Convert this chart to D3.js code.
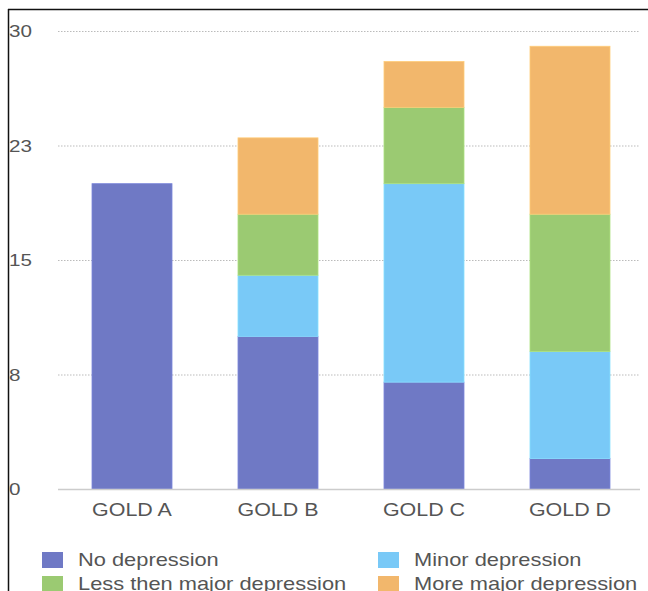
<!DOCTYPE html>
<html>
<head>
<meta charset="utf-8">
<script src="https://cdn.jsdelivr.net/npm/d3@7"></script>
<style>
  body { margin: 0; background: #fff; }
  svg { font-family: "Liberation Sans", Arial, sans-serif; }
</style>
</head>
<body>
<div id="chart"></div>
<script>
var categories = ["GOLD A", "GOLD B", "GOLD C", "GOLD D"];
var seriesNames = ["No depression", "Minor depression", "Less then major depression", "More major depression"];
var noDepression = [20, 10, 7, 2];
var minorDepression = [0, 4, 13, 7];
var lessMajor = [0, 4, 5, 9];
var moreMajor = [0, 5, 3, 11];
var tickValues = [0, 7.5, 15, 22.5, 30];
var colors = ["#6f79c5", "#79c9f7", "#9bca72", "#f2b76c"];

var svg = d3.select("#chart").append("svg")
    .attr("width", 648)
    .attr("height", 591);

// the text in the picture is a bit wide, stretch it
function stretch(sel, k) {
    sel.each(function () {
        var len = this.getComputedTextLength();
        d3.select(this).attr("textLength", len * k).attr("lengthAdjust", "spacingAndGlyphs");
    });
}

// frame lines of the original screenshot
svg.append("line").attr("x1", 8).attr("x2", 648).attr("y1", 9.5).attr("y2", 9.5)
    .attr("stroke", "#111").attr("stroke-width", 1.5);
svg.append("line").attr("x1", 8.5).attr("x2", 8.5).attr("y1", 9).attr("y2", 591)
    .attr("stroke", "#111").attr("stroke-width", 1.5);

var margin = { top: 31, left: 58, right: 8 };
var width = 648 - margin.left - margin.right;
var height = 489 - margin.top;
var g = svg.append("g").attr("transform", "translate(" + margin.left + "," + margin.top + ")");

var x = d3.scaleBand().domain(categories).range([34, 552]).paddingInner(0.452).paddingOuter(0);
var y = d3.scaleLinear().domain([0, 30]).range([height, 0]);

// grid
g.selectAll(".grid").data(tickValues.slice(1)).enter().append("line")
    .attr("x1", 0).attr("x2", width)
    .attr("y1", function (d) { return y(d) + 0.5; })
    .attr("y2", function (d) { return y(d) + 0.5; })
    .attr("stroke", "#bbb")
    .attr("stroke-dasharray", "1.5,1.5");

var rows = categories.map(function (c, i) {
    return { cat: c, v0: noDepression[i], v1: minorDepression[i], v2: lessMajor[i], v3: moreMajor[i] };
});
var stack = d3.stack().keys(["v0", "v1", "v2", "v3"]);
var layers = stack(rows);

g.selectAll(".layer").data(layers).enter().append("g")
    .attr("fill", function (d, i) { return colors[i]; })
    .attr("stroke", function (d, i) { return d3.color(colors[i]).brighter(0.3); })
    .attr("stroke-width", 0.8)
    .selectAll("rect").data(function (d) { return d.filter(function (p) { return p[1] > p[0]; }); })
    .enter().append("rect")
    .attr("x", function (d) { return x(d.data.cat); })
    .attr("width", x.bandwidth())
    .attr("y", function (d) { return y(d[1]); })
    .attr("height", function (d) { return y(d[0]) - y(d[1]); });

// baseline
g.append("line").attr("x1", 0).attr("x2", width)
    .attr("y1", height + 0.5).attr("y2", height + 0.5)
    .attr("stroke", "#ccc").attr("stroke-width", 1.5);

// y labels
svg.selectAll(".ylab").data(tickValues).enter().append("text")
    .attr("x", 9)
    .attr("y", function (d) { return margin.top + y(d) + 6; })
    .attr("fill", "#555")
    .attr("font-size", "16.5px")
    .text(function (d) { return Math.round(d); })
    .call(stretch, 1.25);

// x labels
g.selectAll(".xlab").data(categories).enter().append("text")
    .attr("x", function (d) { return x(d) + x.bandwidth() / 2; })
    .attr("y", height + 27)
    .attr("text-anchor", "middle")
    .attr("fill", "#555")
    .attr("font-size", "18px")
    .text(function (d) { return d; })
    .call(stretch, 1.19);

// legend
var legendPos = [[42, 552], [378, 552], [42, 576], [378, 576]];
var leg = svg.selectAll(".legend").data([0, 1, 2, 3]).enter().append("g")
    .attr("transform", function (d) { return "translate(" + legendPos[d][0] + "," + legendPos[d][1] + ")"; });
leg.append("rect").attr("width", 21).attr("height", 16)
    .attr("fill", function (d) { return colors[d]; });
leg.append("text").attr("x", 36).attr("y", 14)
    .attr("fill", "#555").attr("font-size", "18.5px")
    .text(function (d) { return seriesNames[d]; })
    .call(stretch, 1.18);
</script>
</body>
</html>
